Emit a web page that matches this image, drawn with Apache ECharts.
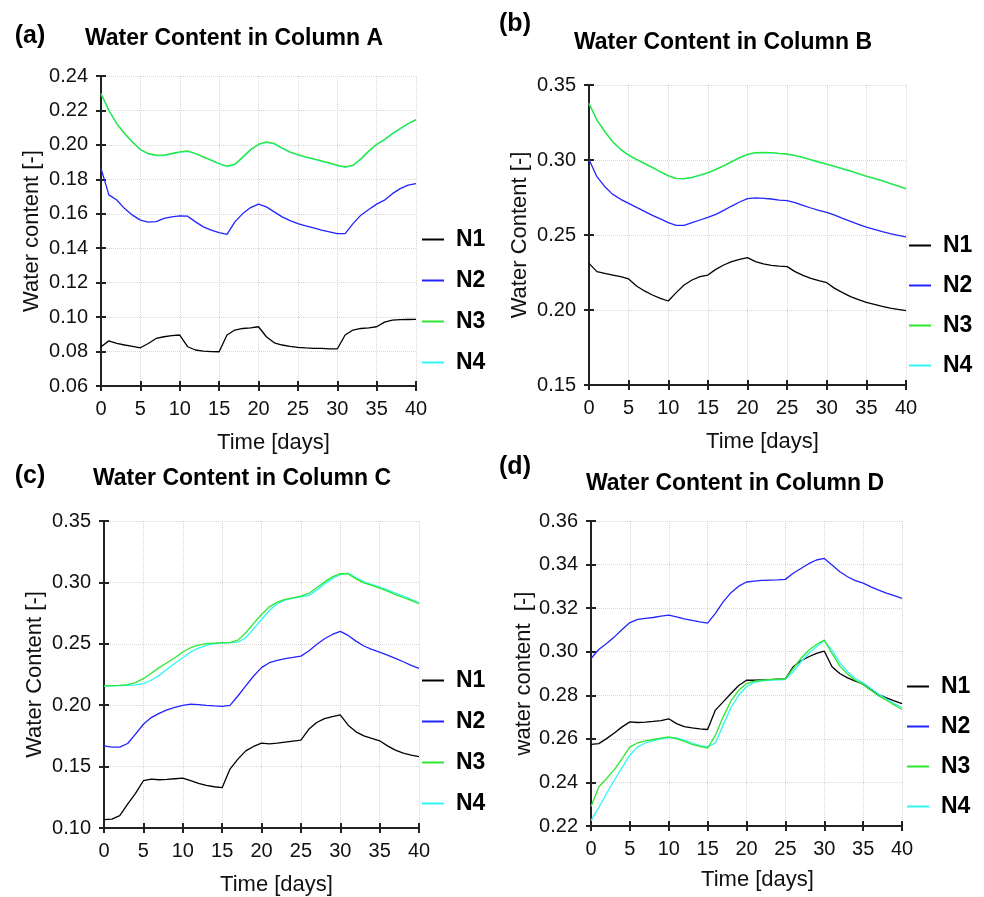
<!DOCTYPE html>
<html><head><meta charset="utf-8">
<script src="https://cdn.jsdelivr.net/npm/echarts@6/dist/echarts.min.js"></script>
<style>html,body{margin:0;padding:0;background:#fff}#chart{width:984px;height:897px}</style>
</head><body><div id="chart"></div>
<script>
// ---- data ----
const days = [0,1,2,3,4,5,6,7,8,9,10,11,12,13,14,15,16,17,18,19,20,21,22,23,24,25,26,27,28,29,30,31,32,33,34,35,36,37,38,39,40];
const seriesNames = ['N1','N2','N3','N4'];

const aN1 = [0.0828,0.0862,0.0847,0.0838,0.0830,0.0822,0.0847,0.0876,0.0886,0.0892,0.0896,0.0828,0.0809,0.0803,0.0800,0.0799,0.0896,0.0925,0.0934,0.0938,0.0944,0.0886,0.0851,0.0838,0.0830,0.0824,0.0821,0.0819,0.0818,0.0816,0.0815,0.0896,0.0925,0.0934,0.0938,0.0944,0.0971,0.0983,0.0985,0.0986,0.0987];
const aN2 = [0.1863,0.1710,0.1680,0.1630,0.1592,0.1563,0.1551,0.1555,0.1573,0.1582,0.1588,0.1586,0.1553,0.1524,0.1505,0.1491,0.1480,0.1553,0.1601,0.1636,0.1656,0.1640,0.1611,0.1582,0.1560,0.1543,0.1530,0.1518,0.1505,0.1495,0.1485,0.1485,0.1543,0.1592,0.1625,0.1656,0.1679,0.1717,0.1746,0.1766,0.1775];
const aN3 = [0.2298,0.2201,0.2124,0.2066,0.2017,0.1973,0.1950,0.1940,0.1940,0.1950,0.1959,0.1965,0.1950,0.1930,0.1911,0.1892,0.1876,0.1888,0.1930,0.1973,0.2004,0.2017,0.2008,0.1982,0.1959,0.1944,0.1930,0.1919,0.1907,0.1895,0.1882,0.1872,0.1882,0.1920,0.1965,0.2004,0.2031,0.2066,0.2095,0.2124,0.2147];
const aN4 = [0.2296,0.2199,0.2122,0.2064,0.2015,0.1971,0.1948,0.1938,0.1938,0.1948,0.1957,0.1963,0.1949,0.1929,0.1910,0.1890,0.1874,0.1885,0.1927,0.1970,0.2001,0.2015,0.2006,0.1980,0.1957,0.1942,0.1928,0.1917,0.1905,0.1893,0.1880,0.1870,0.1879,0.1917,0.1962,0.2001,0.2029,0.2064,0.2093,0.2122,0.2145];

const bN1 = [0.2311,0.2256,0.2244,0.2233,0.2222,0.2207,0.2160,0.2127,0.2100,0.2078,0.2060,0.2116,0.2167,0.2200,0.2222,0.2233,0.2271,0.2300,0.2322,0.2338,0.2349,0.2322,0.2307,0.2298,0.2293,0.2289,0.2256,0.2231,0.2211,0.2196,0.2182,0.2144,0.2116,0.2089,0.2069,0.2051,0.2038,0.2024,0.2013,0.2004,0.1996];
const bN2 = [0.3004,0.2889,0.2822,0.2771,0.2738,0.2711,0.2684,0.2658,0.2631,0.2607,0.2582,0.2564,0.2564,0.2582,0.2600,0.2618,0.2638,0.2664,0.2693,0.2720,0.2742,0.2747,0.2744,0.2740,0.2733,0.2729,0.2716,0.2698,0.2680,0.2664,0.2651,0.2633,0.2611,0.2591,0.2571,0.2553,0.2538,0.2522,0.2509,0.2498,0.2487];
const bN3 = [0.3378,0.3267,0.3189,0.3122,0.3071,0.3033,0.3004,0.2978,0.2951,0.2922,0.2896,0.2878,0.2876,0.2884,0.2900,0.2916,0.2938,0.2962,0.2989,0.3016,0.3038,0.3049,0.3051,0.3049,0.3044,0.3040,0.3031,0.3018,0.3002,0.2987,0.2973,0.2958,0.2942,0.2927,0.2909,0.2893,0.2878,0.2862,0.2844,0.2827,0.2809];
const bN4 = [0.3376,0.3265,0.3187,0.3120,0.3069,0.3031,0.3002,0.2976,0.2949,0.2920,0.2894,0.2876,0.2874,0.2882,0.2898,0.2914,0.2936,0.2960,0.2987,0.3014,0.3036,0.3047,0.3049,0.3047,0.3042,0.3038,0.3029,0.3016,0.3000,0.2985,0.2971,0.2956,0.2940,0.2925,0.2907,0.2891,0.2876,0.2860,0.2842,0.2825,0.2807];

const cN1 = [0.1068,0.1073,0.1100,0.1195,0.1282,0.1385,0.1398,0.1393,0.1396,0.1401,0.1406,0.1385,0.1363,0.1347,0.1336,0.1328,0.1480,0.1561,0.1628,0.1664,0.1691,0.1685,0.1691,0.1699,0.1707,0.1715,0.1804,0.1859,0.1891,0.1907,0.1921,0.1837,0.1783,0.1750,0.1729,0.1710,0.1669,0.1634,0.1609,0.1593,0.1582];
const cN2 = [0.1669,0.1658,0.1658,0.1688,0.1764,0.1845,0.1899,0.1934,0.1962,0.1983,0.1999,0.2008,0.2005,0.1999,0.1994,0.1991,0.1999,0.2075,0.2157,0.2238,0.2306,0.2346,0.2365,0.2379,0.2389,0.2400,0.2441,0.2495,0.2541,0.2576,0.2601,0.2568,0.2522,0.2482,0.2455,0.2433,0.2408,0.2381,0.2354,0.2324,0.2300];
const cN3 = [0.2157,0.2160,0.2162,0.2167,0.2184,0.2216,0.2260,0.2306,0.2346,0.2387,0.2433,0.2468,0.2490,0.2501,0.2506,0.2509,0.2509,0.2530,0.2590,0.2666,0.2739,0.2801,0.2839,0.2861,0.2874,0.2888,0.2910,0.2956,0.3004,0.3045,0.3072,0.3069,0.3029,0.2996,0.2975,0.2953,0.2929,0.2901,0.2877,0.2853,0.2826];
const cN4 = [0.2155,0.2157,0.2159,0.2162,0.2165,0.2176,0.2203,0.2243,0.2292,0.2341,0.2387,0.2433,0.2465,0.2487,0.2501,0.2506,0.2509,0.2514,0.2549,0.2622,0.2698,0.2771,0.2826,0.2855,0.2872,0.2882,0.2893,0.2937,0.2988,0.3031,0.3064,0.3075,0.3040,0.3007,0.2983,0.2961,0.2939,0.2912,0.2888,0.2861,0.2834];

const dN1 = [0.2575,0.2578,0.2601,0.2627,0.2655,0.2678,0.2675,0.2677,0.2680,0.2684,0.2692,0.2670,0.2656,0.2650,0.2646,0.2643,0.2732,0.2770,0.2808,0.2845,0.2869,0.2869,0.2871,0.2872,0.2874,0.2875,0.2931,0.2958,0.2977,0.2992,0.3003,0.2931,0.2900,0.2880,0.2865,0.2851,0.2826,0.2803,0.2788,0.2774,0.2762];
const dN2 = [0.2969,0.3010,0.3038,0.3068,0.3102,0.3134,0.3148,0.3153,0.3157,0.3163,0.3168,0.3160,0.3151,0.3144,0.3137,0.3131,0.3176,0.3229,0.3271,0.3301,0.3320,0.3324,0.3327,0.3329,0.3330,0.3332,0.3360,0.3382,0.3404,0.3421,0.3428,0.3398,0.3367,0.3344,0.3326,0.3315,0.3298,0.3283,0.3269,0.3257,0.3245];
const dN3 = [0.2290,0.2379,0.2418,0.2459,0.2509,0.2563,0.2581,0.2591,0.2597,0.2603,0.2609,0.2601,0.2588,0.2575,0.2565,0.2557,0.2617,0.2701,0.2774,0.2823,0.2854,0.2865,0.2869,0.2872,0.2874,0.2875,0.2923,0.2969,0.3007,0.3033,0.3053,0.2992,0.2934,0.2897,0.2869,0.2849,0.2823,0.2797,0.2777,0.2756,0.2735];
const dN4 = [0.2225,0.2285,0.2349,0.2410,0.2468,0.2525,0.2563,0.2581,0.2591,0.2600,0.2606,0.2604,0.2594,0.2581,0.2569,0.2563,0.2581,0.2663,0.2744,0.2800,0.2839,0.2859,0.2866,0.2869,0.2871,0.2872,0.2908,0.2954,0.2992,0.3023,0.3050,0.3007,0.2949,0.2908,0.2877,0.2857,0.2831,0.2805,0.2783,0.2762,0.2744];

const panelLabels = ['(a)','(b)','(c)','(d)'];
const panelTitles = ['Water Content in Column A','Water Content in Column B','Water Content in Column C','Water Content in Column D'];
const yNames = ['Water content [-]','Water Content [-]','Water Content [-]','water content  [-]'];
const xName = 'Time [days]';
const yRanges = [[0.06,0.24,0.02],[0.15,0.35,0.05],[0.10,0.35,0.05],[0.22,0.36,0.02]];
const xRange = [0,40,5];
const panelValues = [[aN1,aN2,aN3,aN4],[bN1,bN2,bN3,bN4],[cN1,cN2,cN3,cN4],[dN1,dN2,dN3,dN4]];

// ---- layout / style ----
const FONT = '"Liberation Sans", Arial, sans-serif';
const colors = ['#000000','#2323ff','#2fe62f','#30f5f5'];
const layout = [
  {grid:{left:101,top:76,width:315,height:310}, yGap:58, xGap:46, xShift:30, legend:{left:422,top:228,gap:18}, label:[30,36], title:[234,39]},
  {grid:{left:589,top:85,width:317,height:300}, yGap:58, xGap:46, xShift:30, legend:{left:909,top:234,gap:17}, label:[515,24], title:[723,43]},
  {grid:{left:104,top:521,width:315,height:308}, yGap:58, xGap:46, xShift:30, legend:{left:422,top:669,gap:18}, label:[30,476], title:[242,479]},
  {grid:{left:591,top:521,width:311,height:305}, yGap:56, xGap:43, xShift:22, legend:{left:907,top:675,gap:17}, label:[515,467], title:[735,484]}
];

const grids = [], xAxes = [], yAxes = [], series = [], legends = [], graphics = [];
const axisLineStyle = {color:'#222', width:2};
const splitStyle = {show:true, lineStyle:{color:'#d6d6d6', type:[1,1], width:1}};

for (let i = 0; i < 4; i++) {
  const L = layout[i];
  grids.push(Object.assign({containLabel:false}, L.grid));
  const [ymin, ymax, yint] = yRanges[i];
  xAxes.push({
    type:'value', gridIndex:i, min:xRange[0], max:xRange[1], interval:xRange[2], position:'bottom',
    axisLine:{show:true, onZero:false, lineStyle:axisLineStyle},
    axisTick:{show:true, length:5, lineStyle:axisLineStyle},
    axisLabel:{show:true, margin:13, fontSize:20, fontFamily:FONT, color:'#111'},
    splitLine:splitStyle,
    name:xName, nameLocation:'middle', nameGap:L.xGap,
    nameTextStyle:{fontSize:22, fontFamily:FONT, color:'#111', padding:[0,0,0,L.xShift]}
  });
  xAxes.push({
    type:'value', gridIndex:i, min:xRange[0], max:xRange[1], interval:xRange[2], position:'bottom',
    axisLine:{show:false, onZero:false}, axisTick:{show:true, inside:true, length:5, lineStyle:axisLineStyle},
    axisLabel:{show:false}, splitLine:{show:false}
  });
  yAxes.push({
    type:'value', gridIndex:i, min:ymin, max:ymax, interval:yint, position:'left',
    axisLine:{show:true, onZero:false, lineStyle:axisLineStyle},
    axisTick:{show:true, length:5, lineStyle:axisLineStyle},
    axisLabel:{show:true, margin:13, fontSize:20, fontFamily:FONT, color:'#111', formatter:v=>v.toFixed(2)},
    splitLine:splitStyle,
    name:yNames[i], nameLocation:'middle', nameGap:L.yGap,
    nameTextStyle:{fontSize:22, fontFamily:FONT, color:'#111'}
  });
  yAxes.push({
    type:'value', gridIndex:i, min:ymin, max:ymax, interval:yint, position:'left',
    axisLine:{show:false, onZero:false}, axisTick:{show:true, inside:true, length:5, lineStyle:axisLineStyle},
    axisLabel:{show:false}, splitLine:{show:false}
  });
  panelValues[i].forEach((vals, j) => {
    series.push({
      type:'line', name:seriesNames[j], xAxisIndex:2*i, yAxisIndex:2*i,
      data: days.map((d,k)=>[d, vals[k]]),
      showSymbol:false, symbol:'none', color:colors[j],
      lineStyle:{width:1.3, color:colors[j]}, itemStyle:{color:colors[j]},
      z: j === 2 ? 4 : 3, animation:false, silent:true
    });
  });
  legends.push({
    orient:'vertical', left:L.legend.left, top:L.legend.top, itemGap:L.legend.gap, padding:0,
    itemWidth:22, itemHeight:2, icon:'rect', selectedMode:false,
    data:seriesNames,
    textStyle:{fontSize:23, fontWeight:'bold', fontFamily:FONT, color:'#000', padding:[0,0,0,7]}
  });
  graphics.push({
    type:'text', x:L.label[0], y:L.label[1], silent:true,
    style:{text:panelLabels[i], font:'bold 25px ' + FONT, fill:'#000', textAlign:'center', textVerticalAlign:'middle'}
  });
  graphics.push({
    type:'text', x:L.title[0], y:L.title[1], silent:true,
    style:{text:panelTitles[i], font:'bold 23px ' + FONT, fill:'#000', textAlign:'center', textVerticalAlign:'middle'}
  });
}

const chart = echarts.init(document.getElementById('chart'), null, {renderer:'canvas'});
chart.setOption({
  animation:false,
  backgroundColor:'#fff',
  grid:grids, xAxis:xAxes, yAxis:yAxes, series:series, legend:legends, graphic:graphics
});
</script></body></html>
